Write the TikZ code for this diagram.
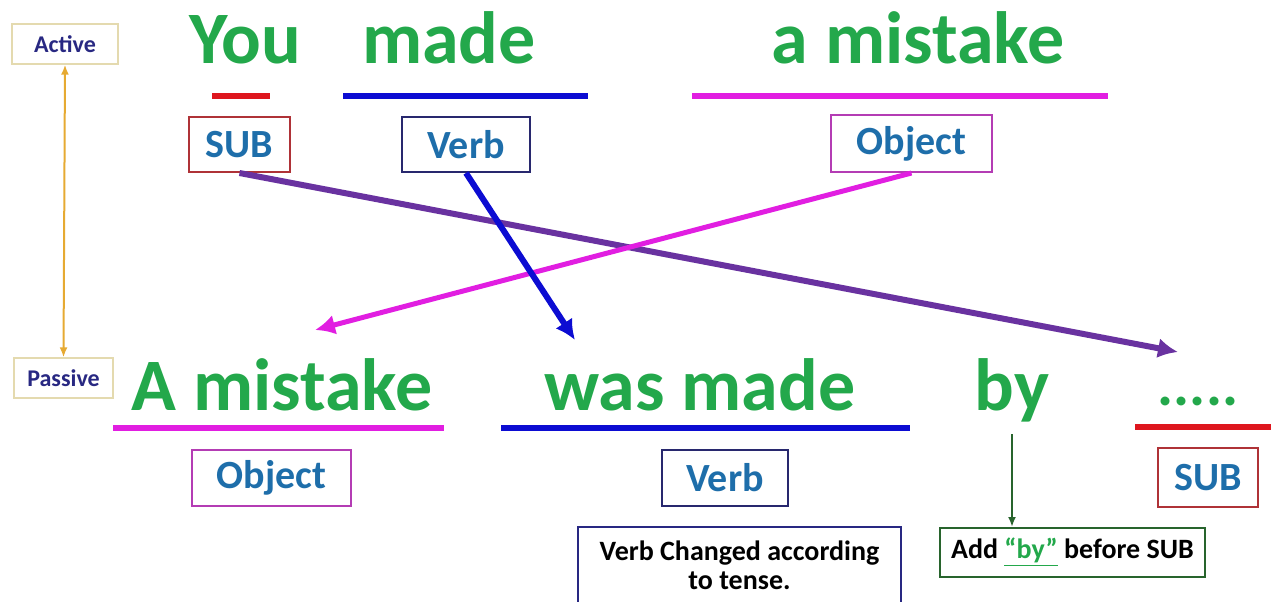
\documentclass[tikz,border=0pt]{standalone}
\usepackage{fontspec}
\setmainfont{Carlito}
\usepackage{xcolor}
\usetikzlibrary{arrows.meta}

\definecolor{wgreen}{RGB}{35,168,75}
\definecolor{lred}{RGB}{222,22,30}
\definecolor{lblue}{RGB}{12,12,210}
\definecolor{lmag}{RGB}{225,30,225}
\definecolor{lpurple}{RGB}{105,50,160}
\definecolor{txtblue}{RGB}{30,110,170}
\definecolor{subframe}{RGB}{175,50,55}
\definecolor{verbframe}{RGB}{40,40,110}
\definecolor{objframe}{RGB}{180,60,180}
\definecolor{navy}{RGB}{40,40,130}
\definecolor{addgreen}{RGB}{40,100,45}
\definecolor{lorange}{RGB}{230,170,50}
\definecolor{tagframe}{RGB}{228,218,175}

\tikzset{
  bigword/.style={anchor=base, text=wgreen, font=\fontsize{37}{40}\selectfont\bfseries, inner sep=0pt},
  rolebox/.style={draw=#1, line width=1pt, text=txtblue, font=\fontsize{20}{22}\selectfont\bfseries, inner sep=0pt},
  tagbox/.style={draw=tagframe, line width=0.6pt, text=navy, font=\fontsize{12}{14}\selectfont\bfseries, inner sep=0pt},
  notebox/.style={draw=#1, line width=1pt, text=black, font=\fontsize{14}{15.5}\selectfont\bfseries, inner sep=0pt, align=center},
  uline/.style={line width=3pt, draw=#1},
}

\begin{document}
\begin{tikzpicture}[x=0.5pt, y=-0.5pt]
\useasboundingbox (0,0) rectangle (1271,601);

% active sentence
\node[bigword] (you) at (245,63) {You};
\node[bigword] (made) at (449,63) {made};
\node[bigword] (amist) at (918,63) {a mistake};
\draw[uline=lred] (212,96) -- (270,96);
\draw[uline=lblue] (343,96) -- (588,96);
\draw[uline=lmag] (692,96) -- (1108,96);
\node[rolebox=subframe, minimum width=50.5pt, minimum height=27.5pt] (subA) at (239.5,144.5) {SUB};
\node[rolebox=verbframe, minimum width=64pt, minimum height=27.5pt] (verbA) at (466,144.5) {Verb};
\node[rolebox=objframe, minimum width=80.5pt, minimum height=28.5pt] (objA) at (911.5,143.5) {Object};

% passive sentence
\node[bigword] (Amist) at (282,410) {A mistake};
\node[bigword] (wasmade) at (700,410) {was made};
\node[bigword] (by) at (1012,410) {by};
\node[bigword, font=\fontsize{30}{32}\selectfont\bfseries] (dots) at (1198,405) {.....};
\draw[uline=lmag] (113,428) -- (444,428);
\draw[uline=lblue] (501,428) -- (910,428);
\draw[uline=lred] (1135,427) -- (1271,427);
\node[rolebox=objframe, minimum width=79.5pt, minimum height=28pt] (objP) at (271.5,478) {Object};
\node[rolebox=verbframe, minimum width=63pt, minimum height=28pt] (verbP) at (725,478) {Verb};
\node[rolebox=subframe, minimum width=50pt, minimum height=29.5pt] (subP) at (1208,477.5) {SUB};

\node[notebox=navy, minimum width=161.5pt, minimum height=38pt] (note) at (739.5,565) {Verb Changed according\\[-1pt] to tense.};
\node[notebox=addgreen, minimum width=132.5pt, minimum height=24.5pt] (add) at (1072.5,552.5) {Add {\color{wgreen}\underline{“by”}} before SUB};

% labels on the left
\node[tagbox, minimum width=53pt, minimum height=20pt] (active) at (65,44) {Active};
\node[tagbox, minimum width=49.5pt, minimum height=20pt] (passive) at (63.5,378) {Passive};
\draw[lorange, line width=1pt, {Latex[length=5pt,width=4pt]}-{Latex[length=5pt,width=4pt]}] (active.south) -- (passive.north);

% moves
\coordinate (subtip) at (1178,352);
\coordinate (verbtip) at (575,340);
\coordinate (objtip) at (315,330);
\draw[lpurple, line width=3pt, -{Latex[length=10pt,width=10pt]}] (subA.south) -- (subtip);
\draw[lmag, line width=2.5pt, -{Latex[length=10pt,width=10pt]}] (objA.south) -- (objtip);
\draw[lblue, line width=3pt, -{Latex[length=10pt,width=10pt]}] (verbA.south) -- (verbtip);
\draw[addgreen, line width=1pt, -{Latex[length=5pt,width=4pt]}] ([yshift=-6pt]by.south) -- (by.south |- add.north);
\end{tikzpicture}
\end{document}
